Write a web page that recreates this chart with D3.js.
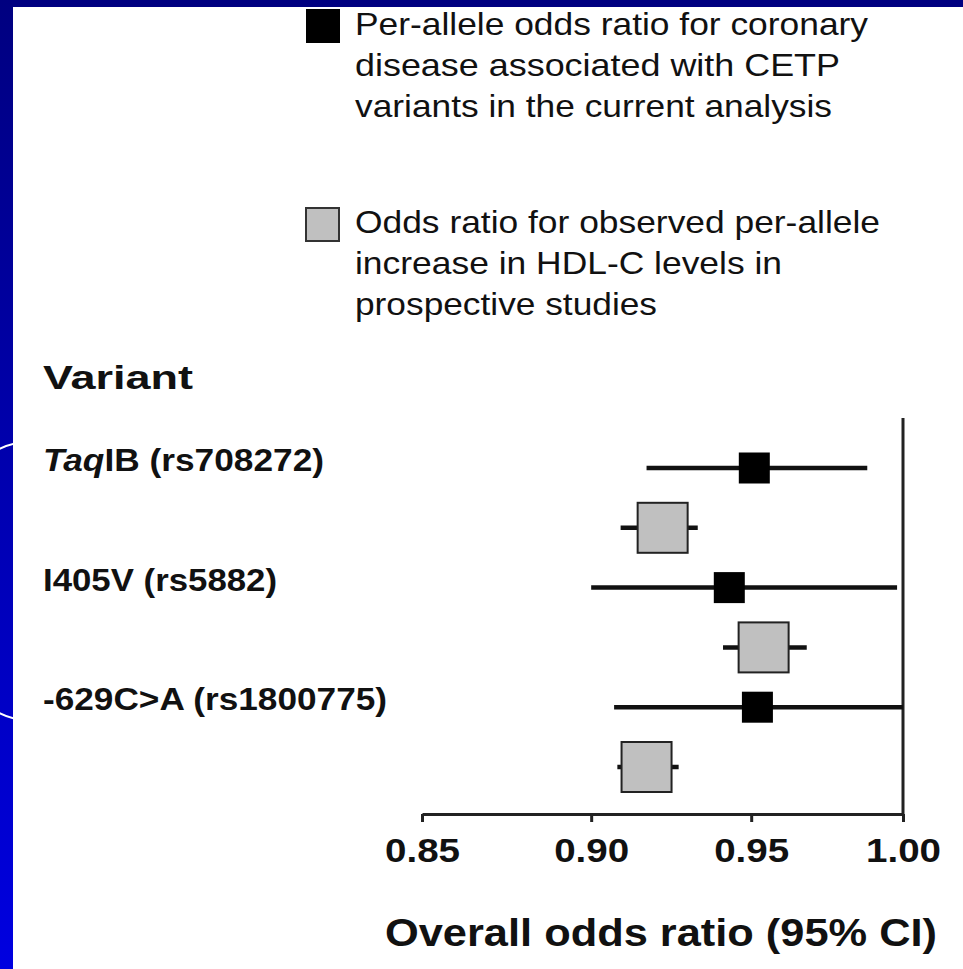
<!DOCTYPE html>
<html>
<head>
<meta charset="utf-8">
<script src="https://cdn.jsdelivr.net/npm/d3@7"></script>
<style>
  html, body { margin: 0; padding: 0; background: #fff; }
  svg { display: block; font-family: "Liberation Sans", Arial, Helvetica, sans-serif; }
</style>
</head>
<body>
<svg id="chart" width="963" height="969"></svg>
<script>
// ---- Data ----
const variants = ["TaqIB (rs708272)", "I405V (rs5882)", "-629C>A (rs1800775)"];
const observedOR   = [0.951, 0.943, 0.952];
const observedLow  = [0.917, 0.900, 0.907];
const observedHigh = [0.988, 0.998, 1.000];
const expectedOR   = [0.922, 0.954, 0.917];
const expectedLow  = [0.909, 0.941, 0.908];
const expectedHigh = [0.933, 0.968, 0.927];
const tickValues = [0.85, 0.90, 0.95, 1.00];
const legendObserved = ["Per-allele odds ratio for coronary", "disease associated with CETP", "variants in the current analysis"];
const legendExpected = ["Odds ratio for observed per-allele", "increase in HDL-C levels in", "prospective studies"];
const headerText = "Variant";
const axisTitle = "Overall odds ratio (95% CI)";

// ---- Setup ----
const svg = d3.select("#chart");
const W = 963, H = 969;

// background frame
const defs = svg.append("defs");
const grad = defs.append("linearGradient").attr("id", "bg").attr("x1", 0).attr("y1", 0).attr("x2", 0).attr("y2", 1);
grad.append("stop").attr("offset", "0%").attr("stop-color", "#000080");
grad.append("stop").attr("offset", "100%").attr("stop-color", "#0000e0");
svg.append("rect").attr("width", W).attr("height", H).attr("fill", "url(#bg)");
svg.append("ellipse").attr("cx", 28).attr("cy", 581).attr("rx", 91).attr("ry", 139)
  .attr("fill", "none").attr("stroke", "#fff").attr("stroke-width", 2);
svg.append("rect").attr("x", 13).attr("y", 7).attr("width", W - 13).attr("height", H - 7).attr("fill", "#fff");

function fit(sel, w) {
  sel.attr("textLength", w).attr("lengthAdjust", "spacingAndGlyphs");
}

// ---- Scales ----
const x = d3.scaleLog().domain([0.85, 1.0]).range([422, 903]);
const slots = [];
variants.forEach((v, i) => { slots.push(i + "-obs"); slots.push(i + "-exp"); });
const y = d3.scalePoint().domain(slots).range([468, 767]);

// ---- Legend ----
const legFont = 32;
const leg1 = svg.append("g");
leg1.append("rect").attr("x", 306).attr("y", 9).attr("width", 34).attr("height", 34).attr("fill", "#000");
const leg1W = [513, 485, 477];
legendObserved.forEach((t, i) => {
  leg1.append("text").attr("x", 355).attr("y", 35 + i * 41).attr("font-size", legFont).attr("fill", "#111")
    .text(t).call(fit, leg1W[i]);
});
const leg2 = svg.append("g");
leg2.append("rect").attr("x", 306).attr("y", 208).attr("width", 33).attr("height", 33)
  .attr("fill", "#c0c0c0").attr("stroke", "#333").attr("stroke-width", 2);
const leg2W = [525, 427, 302];
legendExpected.forEach((t, i) => {
  leg2.append("text").attr("x", 355).attr("y", 233 + i * 41).attr("font-size", legFont).attr("fill", "#111")
    .text(t).call(fit, leg2W[i]);
});

// ---- Header ----
svg.append("text").attr("x", 43).attr("y", 389).attr("font-size", 33).attr("font-weight", "bold")
  .attr("fill", "#111").text(headerText).call(fit, 150);

// ---- Variant labels ----
const labelW = [281, 234, 344];
variants.forEach((v, i) => {
  const t = svg.append("text").attr("x", 43).attr("y", y(i + "-obs") + 3)
    .attr("font-size", 32).attr("font-weight", "bold").attr("fill", "#111");
  if (v.startsWith("Taq")) {
    t.append("tspan").attr("font-style", "italic").text("Taq");
    t.append("tspan").text(v.slice(3));
  } else {
    t.text(v);
  }
  t.call(fit, labelW[i]);
});

// ---- Axes ----
const axisG = svg.append("g").attr("transform", "translate(0,814)");
const xAxis = d3.axisBottom(x).tickValues(tickValues).tickSize(8).tickSizeOuter(0)
  .tickFormat(d3.format(".2f"));
axisG.call(xAxis);
axisG.select(".domain").attr("stroke", "#222").attr("stroke-width", 3);
axisG.selectAll(".tick line").attr("stroke", "#222").attr("stroke-width", 3);
axisG.selectAll(".tick text").attr("font-size", 33).attr("font-weight", "bold").attr("fill", "#111")
  .attr("font-family", "Liberation Sans, Arial, sans-serif")
  .attr("y", 48).attr("dy", 0)
  .attr("textLength", 75).attr("lengthAdjust", "spacingAndGlyphs");

// vertical reference line at OR = 1
svg.append("line").attr("x1", x(1)).attr("x2", x(1)).attr("y1", 418).attr("y2", 815)
  .attr("stroke", "#222").attr("stroke-width", 3);

svg.append("text").attr("x", 385).attr("y", 946).attr("font-size", 38).attr("font-weight", "bold")
  .attr("fill", "#111").text(axisTitle).call(fit, 552);

// ---- Marks ----
const rows = variants.map((v, i) => ({
  i, obs: observedOR[i], obsLo: observedLow[i], obsHi: observedHigh[i],
  exp: expectedOR[i], expLo: expectedLow[i], expHi: expectedHigh[i]
}));

const marks = svg.append("g");
// observed CI lines
marks.selectAll(".ci-obs").data(rows).enter().append("line")
  .attr("x1", d => x(d.obsLo)).attr("x2", d => x(d.obsHi))
  .attr("y1", d => y(d.i + "-obs")).attr("y2", d => y(d.i + "-obs"))
  .attr("stroke", "#111").attr("stroke-width", 4.5);
// expected CI lines
marks.selectAll(".ci-exp").data(rows).enter().append("line")
  .attr("x1", d => x(d.expLo)).attr("x2", d => x(d.expHi))
  .attr("y1", d => y(d.i + "-exp")).attr("y2", d => y(d.i + "-exp"))
  .attr("stroke", "#111").attr("stroke-width", 4.5);
// observed squares
const sObs = 31, sExp = 50;
marks.selectAll(".sq-obs").data(rows).enter().append("rect")
  .attr("x", d => x(d.obs) - sObs / 2).attr("y", d => y(d.i + "-obs") - sObs / 2)
  .attr("width", sObs).attr("height", sObs).attr("fill", "#000");
marks.selectAll(".sq-exp").data(rows).enter().append("rect")
  .attr("x", d => x(d.exp) - sExp / 2).attr("y", d => y(d.i + "-exp") - sExp / 2)
  .attr("width", sExp).attr("height", sExp)
  .attr("fill", "#c0c0c0").attr("stroke", "#222").attr("stroke-width", 2);
</script>
</body>
</html>
